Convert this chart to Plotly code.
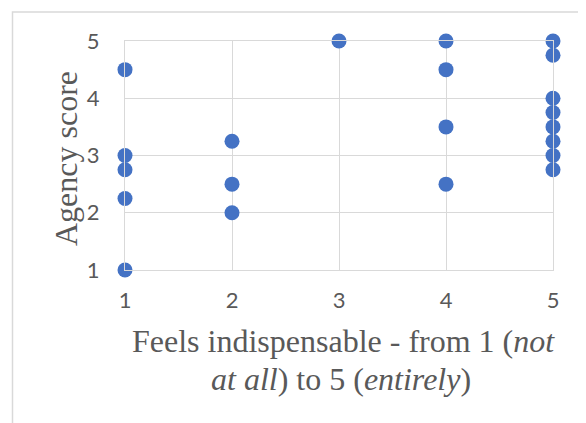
import plotly.graph_objects as go

# Data
feels_indispensable = [1, 1, 1, 1, 1,
                       2, 2, 2,
                       3,
                       4, 4, 4, 4,
                       5, 5, 5, 5, 5, 5, 5, 5]
agency_score = [4.5, 3.0, 2.75, 2.25, 1.0,
                3.25, 2.5, 2.0,
                5.0,
                5.0, 4.5, 3.5, 2.5,
                5.0, 4.75, 4.0, 3.75, 3.5, 3.25, 3.0, 2.75]
tick_values = [1, 2, 3, 4, 5]
x_title_lines = ["Feels indispensable - from 1 (<i>not</i>",
                 "<i>at all</i>) to 5 (<i>entirely</i>)"]
y_title = "Agency score"

# page body has an 8px margin; compensate so the picture lands where the reference is
OFF = 8
W, H = 586 - OFF, 423 - OFF
L, R, T, B = 125 - OFF, 33, 41 - OFF, 153
pw, ph = W - L - R, H - T - B

def px_x(p):
    return (p - OFF - L) / pw

def px_y(p):
    return (H - B - (p - OFF)) / ph

grid = "#d9d9d9"
txt = "#595959"

fig = go.Figure()
fig.add_trace(go.Scatter(
    x=feels_indispensable, y=agency_score, mode="markers",
    marker=dict(color="#4472C4", size=15, line=dict(width=0)),
    cliponaxis=False, showlegend=False, hoverinfo="x+y"))

axis_common = dict(
    range=[1, 5], tickvals=tick_values, showgrid=True, gridcolor=grid, gridwidth=1,
    showline=True, linecolor=grid, linewidth=1, mirror=True, zeroline=False,
    ticks="", tickfont=dict(family="Lato, Calibri, sans-serif", size=22, color=txt),
    fixedrange=True)

fig.update_xaxes(**axis_common, ticklabelstandoff=11)
fig.update_yaxes(**axis_common, ticklabelstandoff=20)

serif = dict(family="Liberation Serif, Times New Roman, serif", size=32, color=txt)
annotations = [
    dict(text=x_title_lines[0], x=px_x(343), y=px_y(341), xref="paper", yref="paper",
         showarrow=False, font=serif, xanchor="center", yanchor="middle"),
    dict(text=x_title_lines[1], x=px_x(341), y=px_y(379), xref="paper", yref="paper",
         showarrow=False, font=serif, xanchor="center", yanchor="middle"),
    dict(text=y_title, x=px_x(66), y=px_y(159), xref="paper", yref="paper",
         showarrow=False, font=serif, textangle=-90, xanchor="center", yanchor="middle"),
]

fig.update_layout(
    width=W, height=H, margin=dict(l=L, r=R, t=T, b=B, pad=0),
    paper_bgcolor="white", plot_bgcolor="white",
    annotations=annotations,
    shapes=[dict(type="rect", xref="paper", yref="paper",
                 x0=px_x(12.5), x1=px_x(640), y0=px_y(480), y1=px_y(12),
                 line=dict(color=grid, width=1.5), fillcolor="rgba(0,0,0,0)", layer="below")],
)

fig.write_html("out.html")
